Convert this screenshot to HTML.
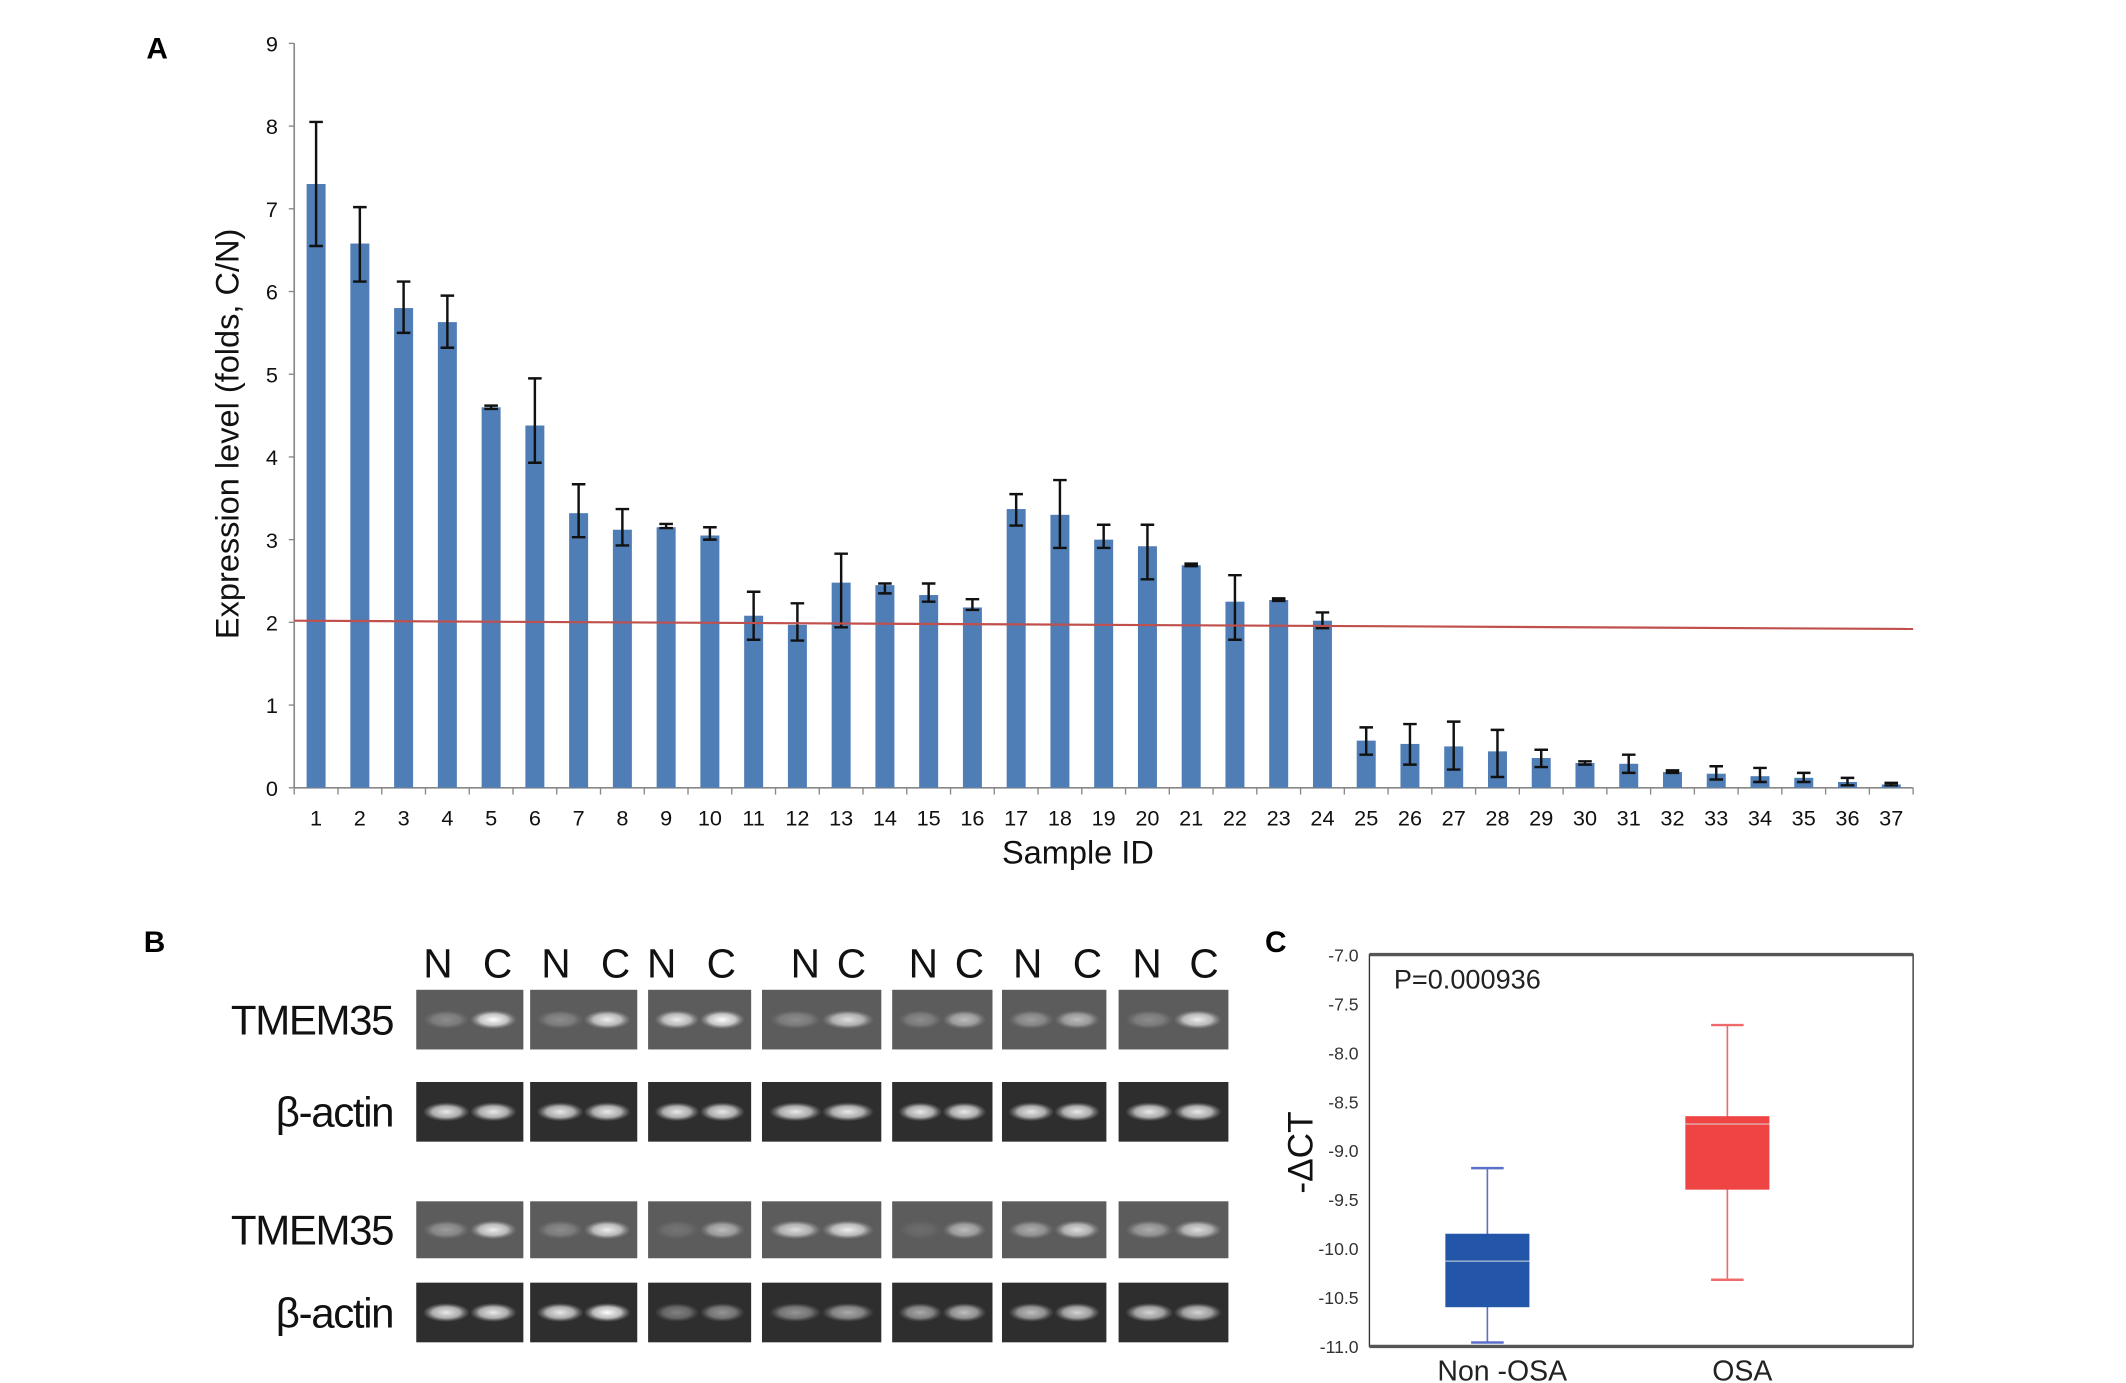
<!DOCTYPE html>
<html><head><meta charset="utf-8"><style>
html,body{margin:0;padding:0;background:#fff;}
svg{display:block;}
text{font-family:"Liberation Sans",sans-serif;}
</style></head><body>
<svg id="fig" width="2126" height="1383" viewBox="0 0 1568 1020" preserveAspectRatio="none">
<defs>
<radialGradient id="band" cx="0.5" cy="0.5" r="0.5"><stop offset="0" stop-color="#fff"/><stop offset="0.6" stop-color="#ddd" stop-opacity="0.8"/><stop offset="1" stop-color="#999" stop-opacity="0"/></radialGradient>
</defs>
<g id="panelA"></g>
<g id="panelB"></g>
<g id="panelC"></g>
</svg>
<script>
const NS='http://www.w3.org/2000/svg';
function mk(parent,tag,attrs,txt){const e=document.createElementNS(NS,tag);for(const k in attrs)e.setAttribute(k,attrs[k]);if(txt!==undefined)e.textContent=txt;parent.appendChild(e);return e;}

// ---- Panel A data ----
const sampleIds=[1,2,3,4,5,6,7,8,9,10,11,12,13,14,15,16,17,18,19,20,21,22,23,24,25,26,27,28,29,30,31,32,33,34,35,36,37];
const expression=[7.3,6.58,5.8,5.63,4.6,4.38,3.32,3.12,3.15,3.05,2.08,1.97,2.48,2.45,2.33,2.18,3.37,3.3,3.0,2.92,2.69,2.25,2.27,2.02,0.57,0.53,0.5,0.44,0.36,0.3,0.29,0.19,0.17,0.14,0.12,0.07,0.04];
const errLow=[6.55,6.12,5.5,5.32,4.58,3.93,3.03,2.93,3.14,3.0,1.79,1.78,1.94,2.35,2.25,2.15,3.17,2.9,2.9,2.52,2.68,1.79,2.26,1.93,0.4,0.28,0.22,0.13,0.25,0.28,0.18,0.18,0.1,0.07,0.07,0.03,0.03];
const errHigh=[8.05,7.02,6.12,5.95,4.62,4.95,3.67,3.37,3.19,3.15,2.37,2.23,2.83,2.47,2.47,2.28,3.55,3.72,3.18,3.18,2.71,2.57,2.29,2.12,0.73,0.77,0.8,0.7,0.46,0.32,0.4,0.21,0.26,0.24,0.18,0.12,0.06];
const yTicksA=[0,1,2,3,4,5,6,7,8,9];
const thresholdStart=2.02, thresholdEnd=1.92;

// ---- Panel C data ----
const groups=['Non-OSA','OSA'];
const whiskerHigh=[-9.18,-7.72];
const q3=[-9.85,-8.65];
const medians=[-10.13,-8.73];
const q1=[-10.6,-9.4];
const whiskerLow=[-10.96,-10.32];
const yTicksC=[-7.0,-7.5,-8.0,-8.5,-9.0,-9.5,-10.0,-10.5,-11.0];

// ---- Panel A ----
const A=document.getElementById('panelA');
const axL=217, axR=1411, y0=581, y9=32;
const yA=v=>y0-(v/9)*(y0-y9);
const step=(axR-axL)/sampleIds.length;
const xA=i=>axL+step*(i+0.5);
let t=mk(A,'text',{x:108,y:43,'font-family':'Liberation Serif','font-weight':'bold','font-size':22},'A');

let ax=mk(A,'line',{x1:axL,y1:y9,x2:axL,y2:y0,stroke:'#888','stroke-width':1.2});

yTicksA.forEach(v=>{
  mk(A,'line',{x1:axL-4,y1:yA(v),x2:axL,y2:yA(v),stroke:'#888'});
  const l=mk(A,'text',{x:205,y:yA(v)+6,'font-size':16,'text-anchor':'end',fill:'#111'},v);
  
});
let xa=mk(A,'line',{x1:axL,y1:y0,x2:axR,y2:y0,stroke:'#888','stroke-width':1.2});

for(let i=0;i<=sampleIds.length;i++)mk(A,'line',{x1:axL+step*i,y1:y0,x2:axL+step*i,y2:y0+5,stroke:'#888'});
sampleIds.forEach((id,i)=>{
  const cx=xA(i);
  const b=mk(A,'rect',{x:cx-7,y:yA(expression[i]),width:14,height:y0-yA(expression[i]),fill:'#4f7db5'});
  
  const e=mk(A,'path',{d:`M${cx-5},${yA(errHigh[i])}H${cx+5}M${cx},${yA(errHigh[i])}V${yA(errLow[i])}M${cx-5},${yA(errLow[i])}H${cx+5}`,stroke:'#111','stroke-width':1.8,fill:'none'});
  
  const l=mk(A,'text',{x:cx,y:609,'font-size':16,'text-anchor':'middle',fill:'#111'},id);
  
});
let rl=mk(A,'line',{x1:axL,y1:yA(thresholdStart),x2:axR,y2:yA(thresholdEnd),stroke:'#c0504d','stroke-width':1.6});

let xt=mk(A,'text',{x:795,y:637,'font-size':24,'text-anchor':'middle',fill:'#111'},'Sample  ID');

let yt=mk(A,'text',{x:0,y:0,'font-size':24,'text-anchor':'middle',fill:'#111',transform:'translate(176,320) rotate(-90)'},'Expression level (folds, C/N)');


// ---- Panel B ----
const B=document.getElementById('panelB');
t=mk(B,'text',{x:106,y:702,'font-family':'Liberation Serif','font-weight':'bold','font-size':22},'B');

const blocks=[[307,386],[391,470],[478,554],[562,650],[658,732],[739,816],[825,906]];
const rows=[{y:730,h:44,name:'TMEM35',br:[[0.3,1],[0.3,0.9],[0.9,1],[0.3,0.8],[0.3,0.6],[0.4,0.6],[0.3,0.9]]},
            {y:798,h:44,name:'β-actin',br:[[0.9,0.9],[0.9,0.9],[0.9,0.9],[0.9,0.9],[0.9,0.9],[0.9,0.9],[0.9,0.9]],dark:true},
            {y:886,h:42,name:'TMEM35',br:[[0.4,0.9],[0.3,0.9],[0.15,0.6],[0.8,0.9],[0.1,0.6],[0.5,0.8],[0.5,0.8]]},
            {y:946,h:44,name:'β-actin',br:[[0.9,0.9],[0.9,1],[0.4,0.5],[0.5,0.6],[0.6,0.7],[0.7,0.8],[0.8,0.8]],dark:true}];
rows.forEach((r,ri)=>{
  const lab=mk(B,'text',{x:290,y:r.y+r.h/2+11,'font-size':31,'text-anchor':'end',fill:'#111','letter-spacing':'-1'},r.name);
  
  blocks.forEach((bk,bi)=>{
    const g=mk(B,'rect',{x:bk[0],y:r.y,width:bk[1]-bk[0],height:r.h,fill:r.dark?'#2e2e2e':'#5c5c5c'});
    
    const w=(bk[1]-bk[0]);
    [0.28,0.72].forEach((f,k)=>{
      const br=r.br[bi][k];
      mk(B,'ellipse',{cx:bk[0]+w*f,cy:r.y+r.h/2,rx:w*0.22,ry:7,fill:'url(#band)',opacity:br});
    });
  });
});
const ncx=[[323,367],[410,454],[488,532],[594,628],[681,715],[758,802],[846,888]];
ncx.forEach(p=>{
  let n=mk(B,'text',{x:p[0],y:721,'font-size':30,'text-anchor':'middle',fill:'#111'},'N');
  
  let c=mk(B,'text',{x:p[1],y:721,'font-size':30,'text-anchor':'middle',fill:'#111'},'C');
  
});

// ---- Panel C ----
const C=document.getElementById('panelC');
t=mk(C,'text',{x:933,y:702,'font-family':'Liberation Serif','font-weight':'bold','font-size':22},'C');

const cT=704,cB=993,cL=1010,cR=1411;
const yC=v=>cT+(-7-v)/4*(cB-cT);
let fr=mk(C,'rect',{x:cL,y:cT,width:cR-cL,height:cB-cT,fill:'none',stroke:'#333','stroke-width':1});

mk(C,'line',{x1:cL,y1:cT,x2:cR,y2:cT,stroke:'#555','stroke-width':2.5});
mk(C,'line',{x1:cL,y1:cB,x2:cR,y2:cB,stroke:'#555','stroke-width':2.5});
yTicksC.forEach(v=>{
  const l=mk(C,'text',{x:1002,y:yC(v)+5,'font-size':13,'text-anchor':'end',fill:'#333','font-family':'Liberation Serif'},v.toFixed(1));
  
});
const gx=[1097,1274], cols=['#2356a8','#ef4444'], wc=['#5b70c8','#ef6b6b'];
groups.forEach((gname,i)=>{
  const x=gx[i];
  mk(C,'line',{x1:x,y1:yC(whiskerHigh[i]),x2:x,y2:yC(whiskerLow[i]),stroke:wc[i],'stroke-width':1.2});
  mk(C,'line',{x1:x-12,y1:yC(whiskerHigh[i]),x2:x+12,y2:yC(whiskerHigh[i]),stroke:wc[i],'stroke-width':1.8});
  mk(C,'line',{x1:x-12,y1:yC(whiskerLow[i]),x2:x+12,y2:yC(whiskerLow[i]),stroke:wc[i],'stroke-width':1.8});
  const b=mk(C,'rect',{x:x-31,y:yC(q3[i]),width:62,height:yC(q1[i])-yC(q3[i]),fill:cols[i]});
  
  mk(C,'line',{x1:x-31,y1:yC(medians[i]),x2:x+31,y2:yC(medians[i]),stroke:'#ddd','stroke-width':1,opacity:0.7});
  const l=mk(C,'text',{x:x+11,y:1018,'font-size':21,'text-anchor':'middle',fill:'#222'},gname==='Non-OSA'?'Non -OSA':'OSA');
  
});
let pv=mk(C,'text',{x:1028,y:729,'font-size':20,fill:'#222'},'P=0.000936');

let cyt=mk(C,'text',{x:0,y:0,'font-size':26,'text-anchor':'middle',fill:'#111',transform:'translate(968,850) rotate(-90)'},'-ΔCT');

</script>
</body></html>
